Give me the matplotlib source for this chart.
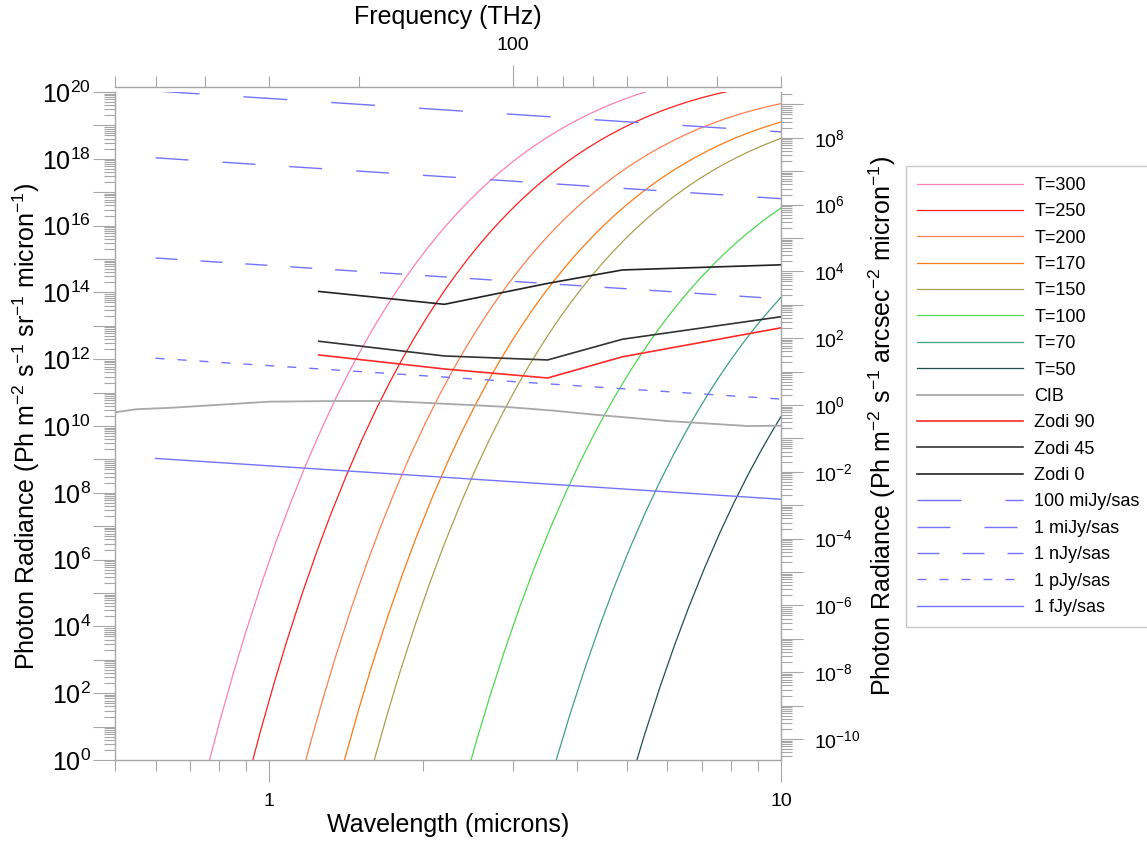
import numpy as np
import matplotlib
matplotlib.use("Agg")
import matplotlib.pyplot as plt
from matplotlib.ticker import LogLocator, FixedLocator, FuncFormatter, NullFormatter

plt.rcParams["font.family"] = ["Liberation Sans", "DejaVu Sans"]
plt.rcParams["mathtext.fontset"] = "custom"
plt.rcParams["mathtext.rm"] = "Liberation Sans"
plt.rcParams["mathtext.it"] = "Liberation Sans:italic"
plt.rcParams["mathtext.bf"] = "Liberation Sans:bold"
plt.rcParams["mathtext.default"] = "regular"
plt.rcParams["lines.scale_dashes"] = False

PX = 0.72  # points per pixel (dpi 100)

# ============================================================================
# 数据（从图上读取，光子辐亮度 Ph m-2 s-1 sr-1 micron-1，黑体曲线存 log10 值）
# ============================================================================

wl_t300 = [0.75, 0.8, 0.85, 0.9, 0.9667, 1.033, 1.1, 1.183, 1.267, 1.35, 1.433, 1.517,
           1.6, 1.683, 1.767, 1.85, 1.933, 2.033, 2.133, 2.233, 2.333, 2.45, 2.567,
           2.7, 2.833, 2.983, 3.133, 3.3, 3.467, 3.667, 3.867, 4.1, 4.333, 4.6,
           4.867, 5.167, 5.5]
lg_t300 = [-0.494, 1.129, 2.556, 3.818, 5.290, 6.564, 7.677, 8.883, 9.923, 10.828,
           11.620, 12.321, 12.943, 13.499, 13.999, 14.450, 14.859, 15.301, 15.698,
           16.055, 16.379, 16.719, 17.025, 17.338, 17.617, 17.897, 18.146, 18.392,
           18.610, 18.840, 19.041, 19.246, 19.424, 19.599, 19.749, 19.893, 20.029]

wl_t250 = [0.9, 0.96, 1.02, 1.08, 1.16, 1.24, 1.32, 1.42, 1.52, 1.62, 1.72, 1.82,
           1.92, 2.02, 2.12, 2.22, 2.32, 2.44, 2.56, 2.68, 2.8, 2.94, 3.08, 3.24,
           3.4, 3.58, 3.76, 3.96, 4.16, 4.4, 4.64, 4.92, 5.2, 5.52, 5.84, 6.2, 6.6,
           7.04, 7.52, 8.0]
lg_t250 = [-0.810, 0.813, 2.240, 3.502, 4.974, 6.248, 7.361, 8.567, 9.607, 10.512,
           11.304, 12.005, 12.627, 13.183, 13.683, 14.134, 14.543, 14.985, 15.382,
           15.739, 16.063, 16.403, 16.709, 17.022, 17.301, 17.581, 17.830, 18.076,
           18.294, 18.524, 18.725, 18.930, 19.108, 19.283, 19.433, 19.577, 19.713,
           19.838, 19.950, 20.042]

wl_t200 = [1.125, 1.2, 1.275, 1.35, 1.45, 1.55, 1.65, 1.775, 1.9, 2.025, 2.15, 2.275,
           2.4, 2.525, 2.65, 2.775, 2.9, 3.05, 3.2, 3.35, 3.5, 3.675, 3.85, 4.05,
           4.25, 4.475, 4.7, 4.95, 5.2, 5.5, 5.8, 6.15, 6.5, 6.9, 7.3, 7.75, 8.25,
           8.8, 9.4, 10.0]
lg_t200 = [-1.198, 0.425, 1.852, 3.114, 4.586, 5.860, 6.973, 8.179, 9.219, 10.124,
           10.916, 11.617, 12.239, 12.795, 13.295, 13.746, 14.155, 14.597, 14.994,
           15.351, 15.675, 16.015, 16.321, 16.634, 16.913, 17.193, 17.442, 17.688,
           17.906, 18.136, 18.337, 18.542, 18.720, 18.895, 19.045, 19.189, 19.325,
           19.450, 19.562, 19.654]

wl_t170 = [1.324, 1.412, 1.5, 1.588, 1.706, 1.824, 1.941, 2.088, 2.235, 2.382, 2.529,
           2.676, 2.824, 2.971, 3.118, 3.265, 3.412, 3.588, 3.765, 3.941, 4.118,
           4.324, 4.529, 4.765, 5.0, 5.265, 5.529, 5.824, 6.118, 6.471, 6.824,
           7.235, 7.647, 8.118, 8.588, 9.118, 9.706, 10.0]
lg_t170 = [-1.480, 0.143, 1.570, 2.832, 4.304, 5.578, 6.691, 7.897, 8.937, 9.842,
           10.634, 11.335, 11.957, 12.513, 13.013, 13.464, 13.873, 14.315, 14.712,
           15.069, 15.393, 15.733, 16.039, 16.352, 16.631, 16.911, 17.160, 17.406,
           17.624, 17.854, 18.055, 18.260, 18.438, 18.613, 18.763, 18.907, 19.043,
           19.102]

wl_t150 = [1.6, 1.7, 1.8, 1.933, 2.067, 2.2, 2.367, 2.533, 2.7, 2.867, 3.033, 3.2,
           3.367, 3.533, 3.7, 3.867, 4.067, 4.267, 4.467, 4.667, 4.9, 5.133, 5.4,
           5.667, 5.967, 6.267, 6.6, 6.933, 7.333, 7.733, 8.2, 8.667, 9.2, 9.733, 10.0]
lg_t150 = [-0.075, 1.352, 2.614, 4.086, 5.360, 6.473, 7.679, 8.719, 9.624, 10.416,
           11.117, 11.739, 12.295, 12.795, 13.246, 13.655, 14.097, 14.494, 14.851,
           15.175, 15.515, 15.821, 16.134, 16.413, 16.693, 16.942, 17.188, 17.406,
           17.636, 17.837, 18.042, 18.220, 18.395, 18.545, 18.612]

wl_t100 = [2.4, 2.55, 2.7, 2.9, 3.1, 3.3, 3.55, 3.8, 4.05, 4.3, 4.55, 4.8, 5.05, 5.3,
           5.55, 5.8, 6.1, 6.4, 6.7, 7.0, 7.35, 7.7, 8.1, 8.5, 8.95, 9.4, 10.0]
lg_t100 = [-0.779, 0.648, 1.910, 3.382, 4.656, 5.769, 6.975, 8.015, 8.920, 9.712,
           10.413, 11.035, 11.591, 12.091, 12.542, 12.951, 13.393, 13.790, 14.147,
           14.471, 14.811, 15.117, 15.430, 15.709, 15.989, 16.238, 16.529]

wl_t70 = [3.429, 3.643, 3.857, 4.143, 4.429, 4.714, 5.071, 5.429, 5.786, 6.143, 6.5,
          6.857, 7.214, 7.571, 7.929, 8.286, 8.714, 9.143, 9.571, 10.0]
lg_t70 = [-1.399, 0.028, 1.290, 2.762, 4.036, 5.149, 6.355, 7.395, 8.300, 9.092,
          9.793, 10.415, 10.971, 11.471, 11.922, 12.331, 12.773, 13.170, 13.527, 13.851]

wl_t50 = [5.1, 5.4, 5.8, 6.2, 6.6, 7.1, 7.6, 8.1, 8.6, 9.1, 9.6, 10.0]
lg_t50 = [-0.556, 0.706, 2.178, 3.452, 4.565, 5.771, 6.811, 7.716, 8.508, 9.209,
          9.831, 10.281]

wl_cib = [0.5, 0.55, 0.65, 1.0, 1.35, 1.7, 2.1, 2.85, 3.6, 4.4, 6.0, 8.6, 10.0]
cib = [2.57e10, 3.17e10, 3.54e10, 5.35e10, 5.6e10, 5.6e10, 4.8e10, 3.8e10,
       2.88e10, 2.13e10, 1.41e10, 1.0e10, 1.02e10]

wl_zodi = [1.25, 2.2, 3.5, 4.9, 10.0]
zodi_90 = [1.34e12, 5.1e11, 2.74e11, 1.18e12, 8.7e12]
zodi_45 = [3.45e12, 1.25e12, 9.5e11, 3.96e12, 1.87e13]
zodi_0 = [1.07e14, 4.4e13, 1.86e14, 4.7e14, 6.7e14]

wl_jy = [0.6, 10.0]
jy_100mi = [1.07e20, 6.4e18]
jy_1mi = [1.07e18, 6.4e16]
jy_1n = [1.07e15, 6.4e13]
jy_1p = [1.07e12, 6.4e10]
jy_1f = [1.07e9, 6.4e7]

SR_TO_SAS = 4.2545e10  # 1 sr = 4.2545e10 arcsec^2
C_UM_THZ = 299.79

GREY = "#a6a6a6"

# ============================================================================
# 绘图
# ============================================================================

fig = plt.figure(figsize=(11.47, 8.5), dpi=100)
ax = fig.add_axes([115 / 1147, 90 / 850, 666 / 1147, 668 / 850])
ax.set_xscale("log")
ax.set_yscale("log")

bb = [
    (wl_t300, lg_t300, "T=300", "#ff80b4"),
    (wl_t250, lg_t250, "T=250", "#ff1f1f"),
    (wl_t200, lg_t200, "T=200", "#ff8050"),
    (wl_t170, lg_t170, "T=170", "#ff7a14"),
    (wl_t150, lg_t150, "T=150", "#aaa050"),
    (wl_t100, lg_t100, "T=100", "#50d850"),
    (wl_t70, lg_t70, "T=70", "#40a080"),
    (wl_t50, lg_t50, "T=50", "#1f4f4f"),
]
for wl, lg, label, color in bb:
    ax.plot(wl, 10 ** np.array(lg), color=color, lw=0.9, label=label)

ax.plot(wl_cib, cib, color="#a8a8a8", lw=1.3, label="CIB")
ax.plot(wl_zodi, zodi_90, color="#ff2a2a", lw=1.2, label="Zodi 90")
ax.plot(wl_zodi, zodi_45, color="#333333", lw=1.2, label="Zodi 45")
ax.plot(wl_zodi, zodi_0, color="#222222", lw=1.2, label="Zodi 0")

BLUE = "#7373ff"
jy = [
    (jy_100mi, "100 miJy/sas", (0, (44 * PX, 44 * PX))),
    (jy_1mi, "1 miJy/sas", (0, (33 * PX, 34 * PX))),
    (jy_1n, "1 nJy/sas", (0, (22 * PX, 23 * PX))),
    (jy_1p, "1 pJy/sas", (0, (9 * PX, 13 * PX))),
    (jy_1f, "1 fJy/sas", "-"),
]
for vals, label, ls in jy:
    ax.plot(wl_jy, vals, color=BLUE, lw=1.0, ls=ls, label=label)

ax.set_xlim(0.5, 10)
ax.set_ylim(1, 1e20)


def even_pow(v, pos):
    e = int(round(np.log10(v)))
    if e % 2:
        return ""
    return r"$10^{%d}$" % e


# 左轴
ax.yaxis.set_major_locator(LogLocator(base=10, numticks=100))
ax.yaxis.set_minor_locator(LogLocator(base=10, subs=np.arange(2, 10), numticks=100))
ax.yaxis.set_major_formatter(FuncFormatter(even_pow))
ax.yaxis.set_minor_formatter(NullFormatter())
ax.tick_params(axis="y", which="major", length=22 * PX, width=0.8, color=GREY,
               labelsize=18, pad=1.5)
ax.tick_params(axis="y", which="minor", length=11 * PX, width=0.8, color=GREY)

# 底轴
ax.xaxis.set_major_locator(FixedLocator([1, 10]))
ax.xaxis.set_minor_locator(FixedLocator([0.5, 0.6, 0.7, 0.8, 0.9, 2, 3, 4, 5, 6, 7, 8, 9]))
ax.xaxis.set_major_formatter(FuncFormatter(lambda v, p: f"{v:g}"))
ax.xaxis.set_minor_formatter(NullFormatter())
ax.tick_params(axis="x", which="major", length=22 * PX, width=0.8, color=GREY,
               labelsize=14, pad=8)
ax.tick_params(axis="x", which="minor", length=11 * PX, width=0.8, color=GREY)

for s in ["top", "right"]:
    ax.spines[s].set_visible(False)
for s in ["left", "bottom"]:
    ax.spines[s].set_color(GREY)
    ax.spines[s].set_linewidth(1.0)

ax.set_xlabel("Wavelength (microns)", fontsize=18, labelpad=2)
ax.set_ylabel("Photon Radiance (Ph m$^{-2}$ s$^{-1}$ sr$^{-1}$ micron$^{-1}$)",
              fontsize=18, labelpad=0)

# 右轴（每平方角秒）
axr = ax.twinx()
axr.set_yscale("log")
axr.set_ylim(1 / SR_TO_SAS, 1e20 / SR_TO_SAS)
axr.yaxis.set_major_locator(LogLocator(base=10, numticks=100))
axr.yaxis.set_minor_locator(LogLocator(base=10, subs=np.arange(2, 10), numticks=100))
axr.yaxis.set_major_formatter(FuncFormatter(even_pow))
axr.yaxis.set_minor_formatter(NullFormatter())
axr.tick_params(axis="y", which="major", length=22 * PX, width=0.8, color=GREY,
                labelsize=14, pad=8)
axr.tick_params(axis="y", which="minor", length=11 * PX, width=0.8, color=GREY)
for s in ["top", "left", "bottom"]:
    axr.spines[s].set_visible(False)
axr.spines["right"].set_color(GREY)
axr.spines["right"].set_linewidth(1.0)
axr.set_ylabel("Photon Radiance (Ph m$^{-2}$ s$^{-1}$ arcsec$^{-2}$ micron$^{-1}$)",
               fontsize=18, labelpad=4)

# 顶轴（频率）
axt = ax.twiny()
axt.set_xscale("log")
axt.set_xlim(600, C_UM_THZ / 10)
axt.xaxis.set_major_locator(FixedLocator([100]))
axt.xaxis.set_minor_locator(FixedLocator([30, 40, 50, 60, 70, 80, 90,
                                          200, 300, 400, 500, 600]))
axt.xaxis.set_major_formatter(FuncFormatter(lambda v, p: f"{v:g}"))
axt.xaxis.set_minor_formatter(NullFormatter())
axt.tick_params(axis="x", which="major", length=22 * PX, width=0.8, color=GREY,
                labelsize=14, pad=8)
axt.tick_params(axis="x", which="minor", length=11 * PX, width=0.8, color=GREY)
for s in ["bottom", "left", "right"]:
    axt.spines[s].set_visible(False)
axt.spines["top"].set_color(GREY)
axt.spines["top"].set_linewidth(1.0)
axt.spines["top"].set_position(("outward", 5 * PX))
axt.set_xlabel("Frequency (THz)", fontsize=18, labelpad=9)

# 图例
handles, labels = ax.get_legend_handles_labels()
leg = fig.legend(handles, labels, loc="upper left",
                 bbox_to_anchor=(906 / 1147, 1 - 166 / 850),
                 bbox_transform=fig.transFigure, borderaxespad=0,
                 fontsize=13, frameon=True, fancybox=False, framealpha=1,
                 edgecolor="#c8c8c8", handlelength=5.9, handletextpad=0.6,
                 labelspacing=0.52, borderpad=0.6)
leg.get_frame().set_linewidth(1.0)

fig.savefig("out.png", dpi=100)
